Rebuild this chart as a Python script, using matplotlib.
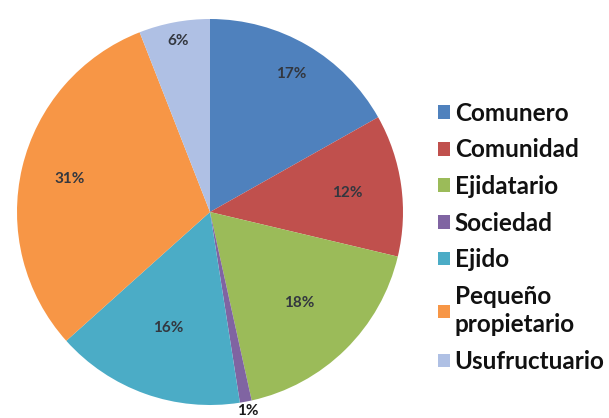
import numpy as np
import matplotlib.pyplot as plt

labels = ['Comunero', 'Comunidad', 'Ejidatario', 'Sociedad', 'Ejido',
          'Pequeño\npropietario', 'Usufructuario']
values = [17, 12, 18, 1, 16, 31, 6]
pct_text = ['17%', '12%', '18%', '1%', '16%', '31%', '6%']
colors = ['#4F81BD', '#C0504D', '#9BBB59', '#8064A2', '#4BACC6', '#F79646', '#AFC0E4']
# radial position of each percentage label (fraction of radius)
label_r = [0.83, 0.72, 0.66, 1.05, 0.64, 0.75, 0.9]

plt.rcParams['font.family'] = ['Lato', 'DejaVu Sans']

fig = plt.figure(figsize=(6.09, 4.18), dpi=100)
W, H = 609, 418
cx, cy, R = 210, 206, 193
ax = fig.add_axes([(cx - R) / W, (cy - R) / H, 2 * R / W, 2 * R / H])

wedges, _ = ax.pie(values, colors=colors, startangle=90, counterclock=False,
                   radius=1, wedgeprops=dict(linewidth=0))
for w, t, r in zip(wedges, pct_text, label_r):
    ang = np.deg2rad((w.theta1 + w.theta2) / 2)
    ax.text(r * np.cos(ang), r * np.sin(ang), t, ha='center', va='center',
            fontsize=11, fontweight='bold', color='#1a1a1a' if r > 1 else '#33373f')
ax.set_xlim(-1, 1)
ax.set_ylim(-1, 1)
ax.set_aspect('equal')
ax.axis('off')

leg = fig.legend(wedges, labels, loc='upper left', bbox_to_anchor=(428 / W, 1 - 92 / H),
                 frameon=False, fontsize=17.5, handlelength=0.5, handleheight=0.5,
                 handletextpad=0.2, labelspacing=0.56, borderaxespad=0)
for t in leg.get_texts():
    t.set_fontweight('bold')
    t.set_color('#111111')
    t.set_linespacing(1.3)

fig.savefig('out.png', dpi=100)
